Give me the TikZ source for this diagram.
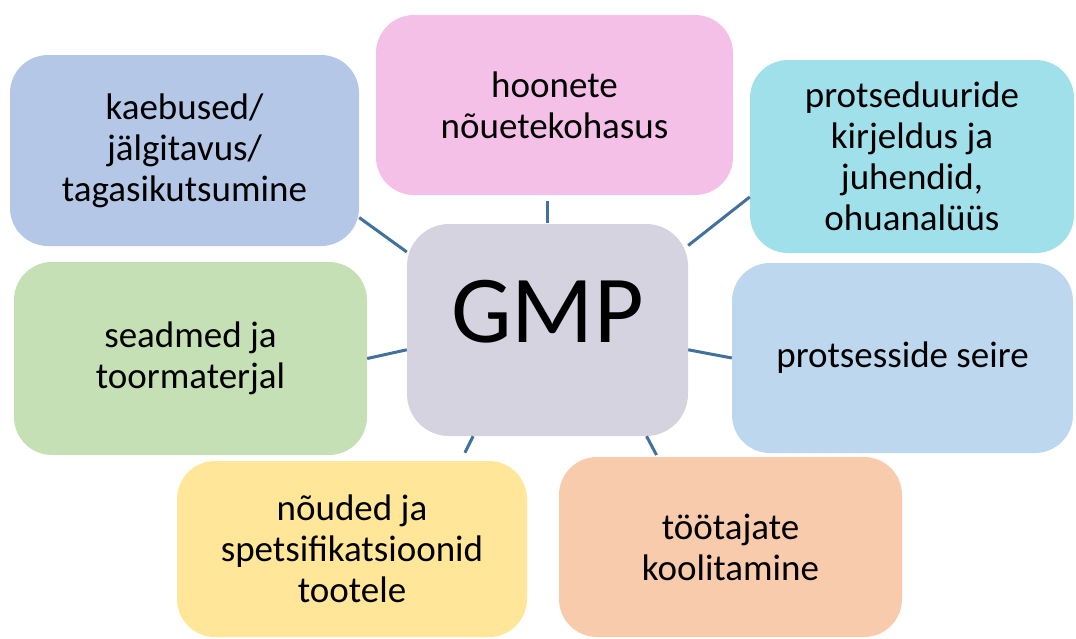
\documentclass[tikz,border=0pt]{standalone}
\usepackage{fontspec}
\setmainfont{Carlito}
\usepackage{xcolor}
\usetikzlibrary{calc,positioning}

\definecolor{hubgrey}{HTML}{D5D3E0}
\definecolor{kaebblue}{HTML}{B4C7E7}
\definecolor{hoonpink}{HTML}{F4C0E8}
\definecolor{proccyan}{HTML}{A0E0EA}
\definecolor{seireblue}{HTML}{BDD7EE}
\definecolor{seadgreen}{HTML}{C5E0B4}
\definecolor{noudyellow}{HTML}{FFE699}
\definecolor{toodorange}{HTML}{F8CBAD}
\definecolor{linkblue}{HTML}{41719C}

\begin{document}
\begin{tikzpicture}[
    x=1pt, y=-1pt,
    box/.style={rectangle, rounded corners=38pt, inner sep=0, align=center,
        font=\fontsize{37}{41}\selectfont},
    hub/.style={box, fill=hubgrey, rounded corners=42pt,
        font=\fontsize{96}{100}\selectfont, text depth=37pt},
    link/.style={draw=linkblue, line width=3pt}]
\useasboundingbox (0,0) rectangle (1076,638);

% centre
\node[hub, minimum width=281pt, minimum height=212pt] (gmp) at (547.5,330) {GMP};

% satellites
\node[box, fill=kaebblue, minimum width=349pt, minimum height=191pt] (kaeb) at (184.5,150.5)
    {kaebused/\\jälgitavus/\\tagasikutsumine};
\node[box, fill=hoonpink, minimum width=357pt, minimum height=180pt] (hoon) at (554.5,105)
    {hoonete\\nõuetekohasus};
\node[box, fill=proccyan, minimum width=324pt, minimum height=193pt] (proc) at (912,156.5)
    {protseduuride\\kirjeldus ja\\juhendid,\\ohuanalüüs};
\node[box, fill=seadgreen, minimum width=353pt, minimum height=193pt] (sead) at (190.5,358.5)
    {seadmed ja\\toormaterjal};
\node[box, fill=seireblue, minimum width=341pt, minimum height=190pt] (seire) at (902.5,358)
    {protsesside seire};
\node[box, fill=noudyellow, minimum width=350pt, minimum height=176pt] (noud) at (352,549)
    {nõuded ja\\spetsifikatsioonid\\tootele};
\node[box, fill=toodorange, minimum width=343pt, minimum height=180pt] (tood) at (730.5,547)
    {töötajate\\koolitamine};

% connectors
\draw[link] (gmp.151) -- (kaeb.-21);
\draw[link, shorten <=1pt, shorten >=6pt] (gmp.north) -- (gmp.north |- hoon.south);
\draw[link] (gmp.31) -- (proc.194);
\draw[link] (gmp.188.4) -- (sead.0);
\draw[link] (gmp.-8.4) -- (seire.180);
\draw[link, shorten >=9pt] (gmp.-125) -- (noud.39);
\draw[link, shorten >=2pt] (gmp.-47.7) -- (tood.129);
\end{tikzpicture}
\end{document}
